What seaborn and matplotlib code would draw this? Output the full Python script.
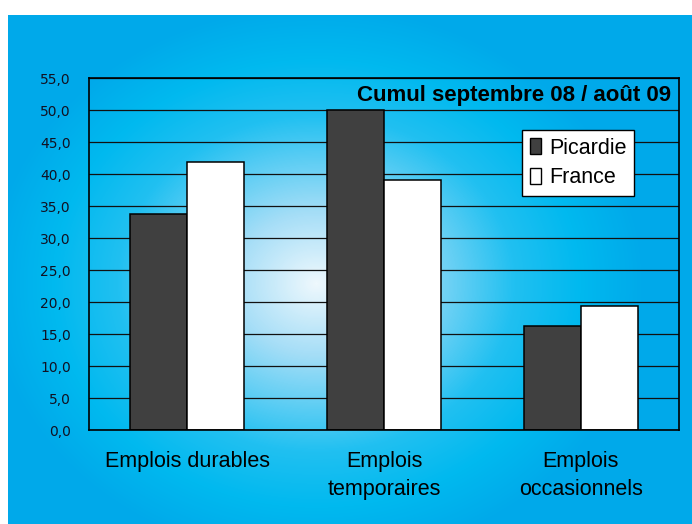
import numpy as np
import pandas as pd
import matplotlib
matplotlib.use("Agg")
import matplotlib.pyplot as plt
from matplotlib.colors import LinearSegmentedColormap
from matplotlib.patches import Patch
from matplotlib.ticker import FixedLocator, FuncFormatter
import seaborn as sns

# donnees
categories = ["Emplois durables", "Emplois\ntemporaires", "Emplois\noccasionnels"]
zones = ["Picardie", "France"]
picardie = [33.7, 50.0, 16.2]
france = [41.8, 39.0, 19.3]
titre = "Cumul septembre 08 / août 09"

df = pd.DataFrame({
    "categorie": categories * 2,
    "zone": [zones[0]] * 3 + [zones[1]] * 3,
    "valeur": picardie + france,
})

sns.set_style("white")
plt.rcParams["font.family"] = ["Liberation Sans", "DejaVu Sans"]

fig = plt.figure(figsize=(6.92, 5.24), dpi=100)
fig.patch.set_facecolor("white")

# fond en degrade radial
bg = fig.add_axes([8 / 692, 0, 684 / 692, 509 / 524])
bg.set_axis_off()
h, w = 509, 684
yy, xx = np.mgrid[0:h, 0:w]
cx, cy = 308, 268
r = np.sqrt(((xx - cx) / 330.0) ** 2 + ((yy - cy) / 280.0) ** 2)
r = np.clip(r, 0, 1)
cmap = LinearSegmentedColormap.from_list(
    "fond", [(0, "#eef8fd"), (0.25, "#a6def7"), (0.6, "#21c0f1"), (0.8, "#00b9ef"), (1, "#00a9ea")])
bg.imshow(r, cmap=cmap, vmin=0, vmax=1, aspect="auto", interpolation="bilinear")

ax = fig.add_axes([89 / 692, 94 / 524, 590 / 692, 352 / 524])
ax.patch.set_alpha(0)
ax.set_axisbelow(True)

sns.barplot(data=df, x="categorie", y="valeur", hue="zone", ax=ax,
            palette=["#404040", "#ffffff"], saturation=1, width=0.58,
            edgecolor="black", linewidth=1.1, errorbar=None, legend=False)

ax.set_xlim(-0.5, 2.5)
ax.set_ylim(0, 55)
ax.set_yticks(np.arange(0, 56, 5))
ax.yaxis.set_major_formatter(FuncFormatter(lambda v, p: f"{v:.1f}".replace(".", ",")))
ax.grid(axis="y", color="#111111", linewidth=0.9)
ax.grid(axis="x", visible=False)
ax.tick_params(axis="y", direction="out", length=6, width=1, color="black",
               labelsize=10, labelcolor="#111122", pad=7)
for lab in ax.get_yticklabels():
    lab.set_fontfamily("DejaVu Sans")
ax.tick_params(axis="x", which="major", length=0, labelsize=15.5, labelcolor="black", pad=15)
for lab in ax.get_xticklabels():
    lab.set_linespacing(1.42)
ax.xaxis.set_minor_locator(FixedLocator([-0.5, 0.5, 1.5, 2.5]))
ax.tick_params(axis="x", which="minor", direction="out", length=7, width=1, color="black")
ax.set_xlabel("")
ax.set_ylabel("")
for s in ax.spines.values():
    s.set_visible(True)
    s.set_color("black")
    s.set_linewidth(1.2)

ax.text(0.986, 0.950, titre, transform=ax.transAxes, ha="right", va="center",
        fontsize=16, fontweight="bold", color="black")

handles = [Patch(facecolor="#404040", edgecolor="black", label=zones[0]),
           Patch(facecolor="white", edgecolor="black", label=zones[1])]
leg = ax.legend(handles=handles, loc="upper left", bbox_to_anchor=(0.734, 0.852),
                borderaxespad=0, fancybox=False, framealpha=1, edgecolor="black",
                fontsize=15.5, handlelength=0.55, handleheight=0.75, handletextpad=0.35,
                labelspacing=0.4, borderpad=0.35, labelcolor="black")
leg.get_frame().set_linewidth(1)

fig.savefig("out.png", dpi=100)
